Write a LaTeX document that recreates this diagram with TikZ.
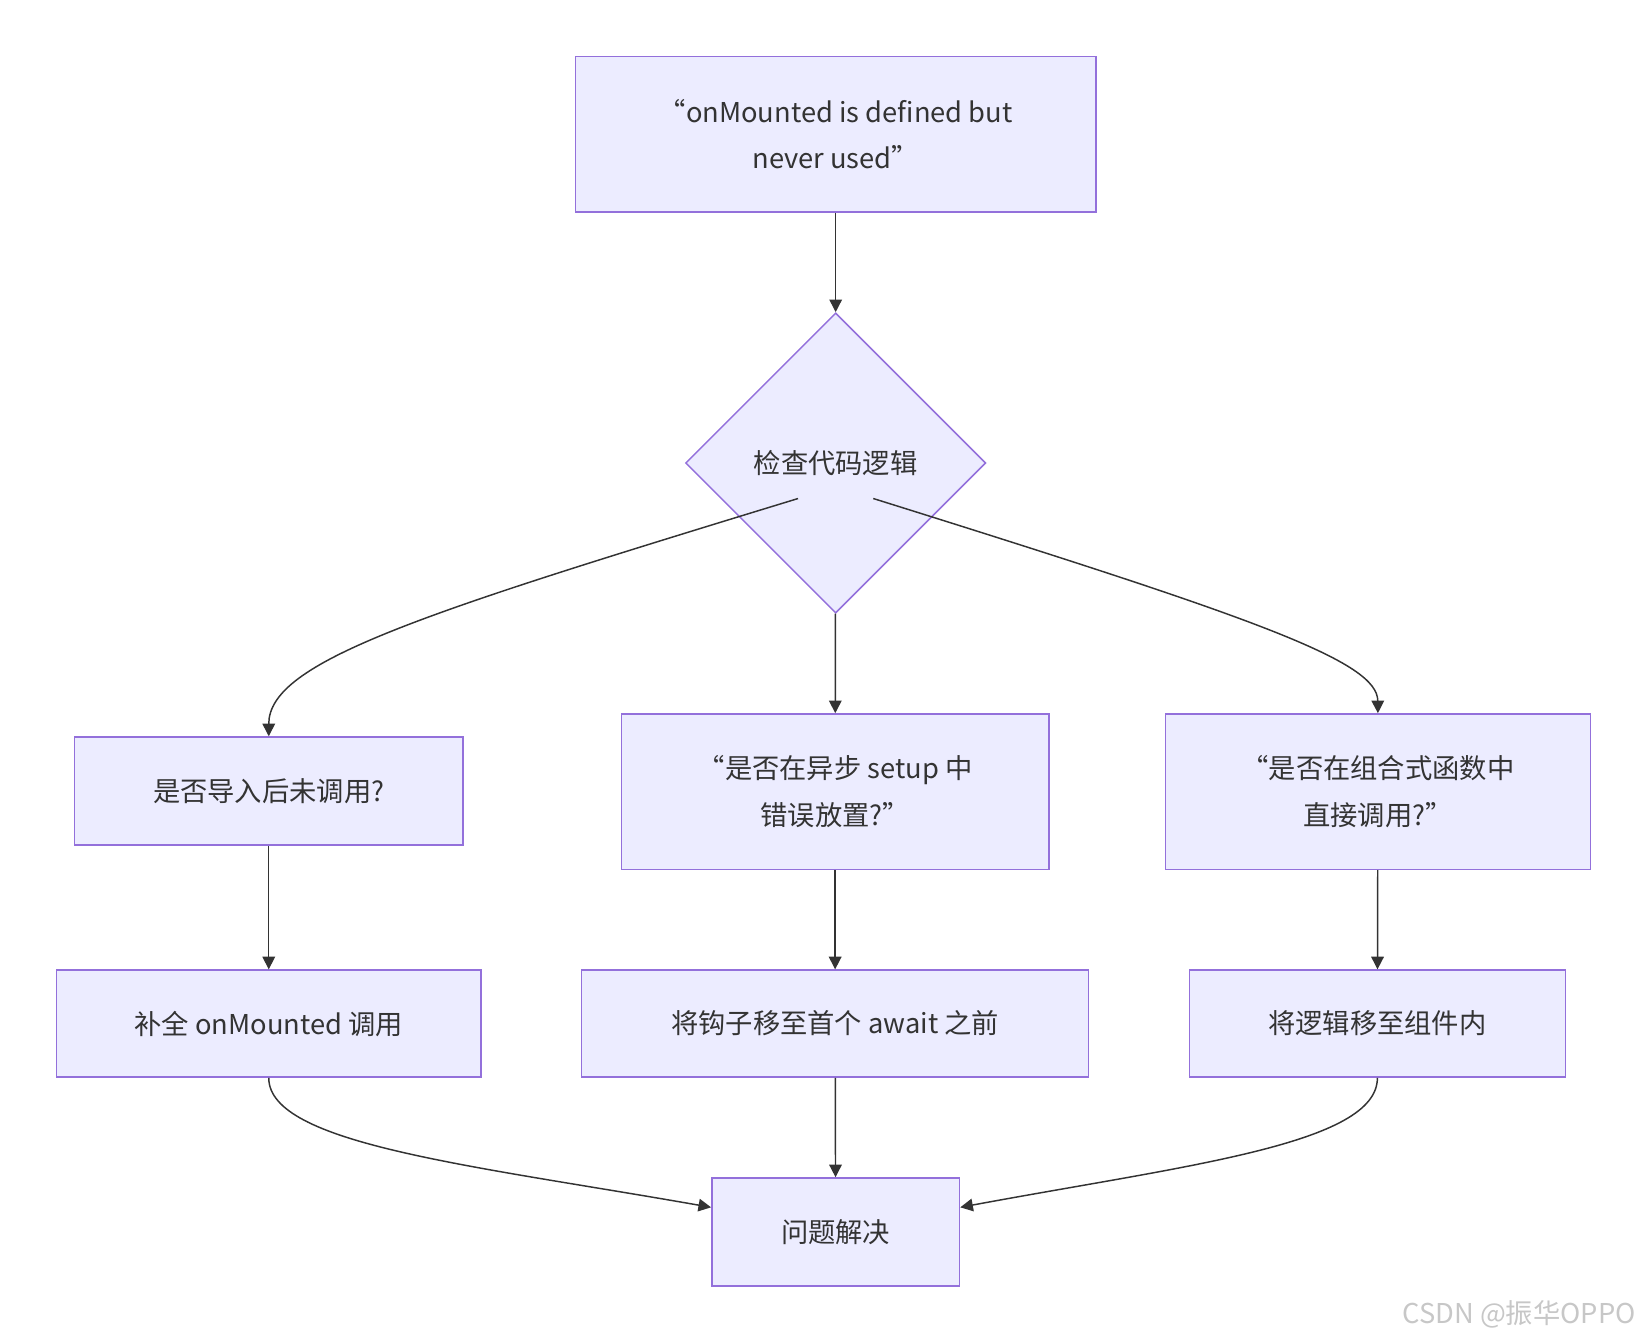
\documentclass[tikz,border=0pt]{standalone}
\usepackage{fontspec}
\setmainfont{Noto Sans CJK SC}
\usetikzlibrary{shapes.geometric,arrows.meta}
\definecolor{bfill}{HTML}{ECECFF}
\definecolor{bdraw}{HTML}{9370DB}
\definecolor{ln}{HTML}{333333}
\begin{document}
\begin{tikzpicture}[x=0.5pt,y=-0.5pt,
 box/.style={draw=bdraw,fill=bfill,line width=0.7pt,inner sep=0,align=center,font=\fontsize{13}{22}\selectfont,text=ln},
 arr/.style={draw=ln,line width=0.7pt,-{Triangle[length=6pt,width=6pt]}}]
\useasboundingbox (0,0) rectangle (1565,1276);
\node[box,minimum width=496\pgflinewidth*0+248pt,minimum height=74pt] (top) at (796,128) {“onMounted is defined but\\never used”};
\node[box,diamond,shape aspect=1,minimum width=143pt,minimum height=143pt] (dia) at (796,441) {检查代码逻辑};
\node[box,minimum width=185pt,minimum height=51.5pt] (l1) at (256,753.5) {是否导入后未调用?};
\node[box,minimum width=203.5pt,minimum height=74pt] (m1) at (795.5,754) {“是否在异步 setup 中\\错误放置?”};
\node[box,minimum width=202.5pt,minimum height=74pt] (r1) at (1312.5,754) {“是否在组合式函数中\\直接调用?”};
\node[box,minimum width=202pt,minimum height=51pt] (l2) at (256,975) {补全 onMounted 调用};
\node[box,minimum width=241.5pt,minimum height=51pt] (m2) at (795.5,975) {将钩子移至首个 await 之前};
\node[box,minimum width=179pt,minimum height=51pt] (r2) at (1312,975) {将逻辑移至组件内};
\node[box,minimum width=118pt,minimum height=51.5pt] (end) at (796,1173.5) {问题解决};
\node[text=black!22,font=\fontsize{13}{13}\selectfont,anchor=east] (wm) at (1565,1252) {CSDN @振华OPPO};
\draw[arr] (top) -- (dia);
\draw[arr] (dia) -- (m1);
\draw[arr] (m1) -- (m2);
\draw[arr] (l1) -- (l2);
\draw[arr] (r1) -- (r2);
\draw[arr] (m2) -- (end);
\draw[arr] (dia.south west) ++(36,-38) coordinate (dl) (dl) .. controls (400,585) and (256,630) .. (l1.north);
\draw[arr] (dia.south east) ++(-36,-38) coordinate (dr) (dr) .. controls (1200,590) and (1312,630) .. (r1.north);
\draw[arr] (l2.south) .. controls (256,1090) and (450,1110) .. (end.west |- 0,1150);
\draw[arr] (r2.south) .. controls (1312,1090) and (1130,1110) .. (end.east |- 0,1150);
\end{tikzpicture}
\end{document}
